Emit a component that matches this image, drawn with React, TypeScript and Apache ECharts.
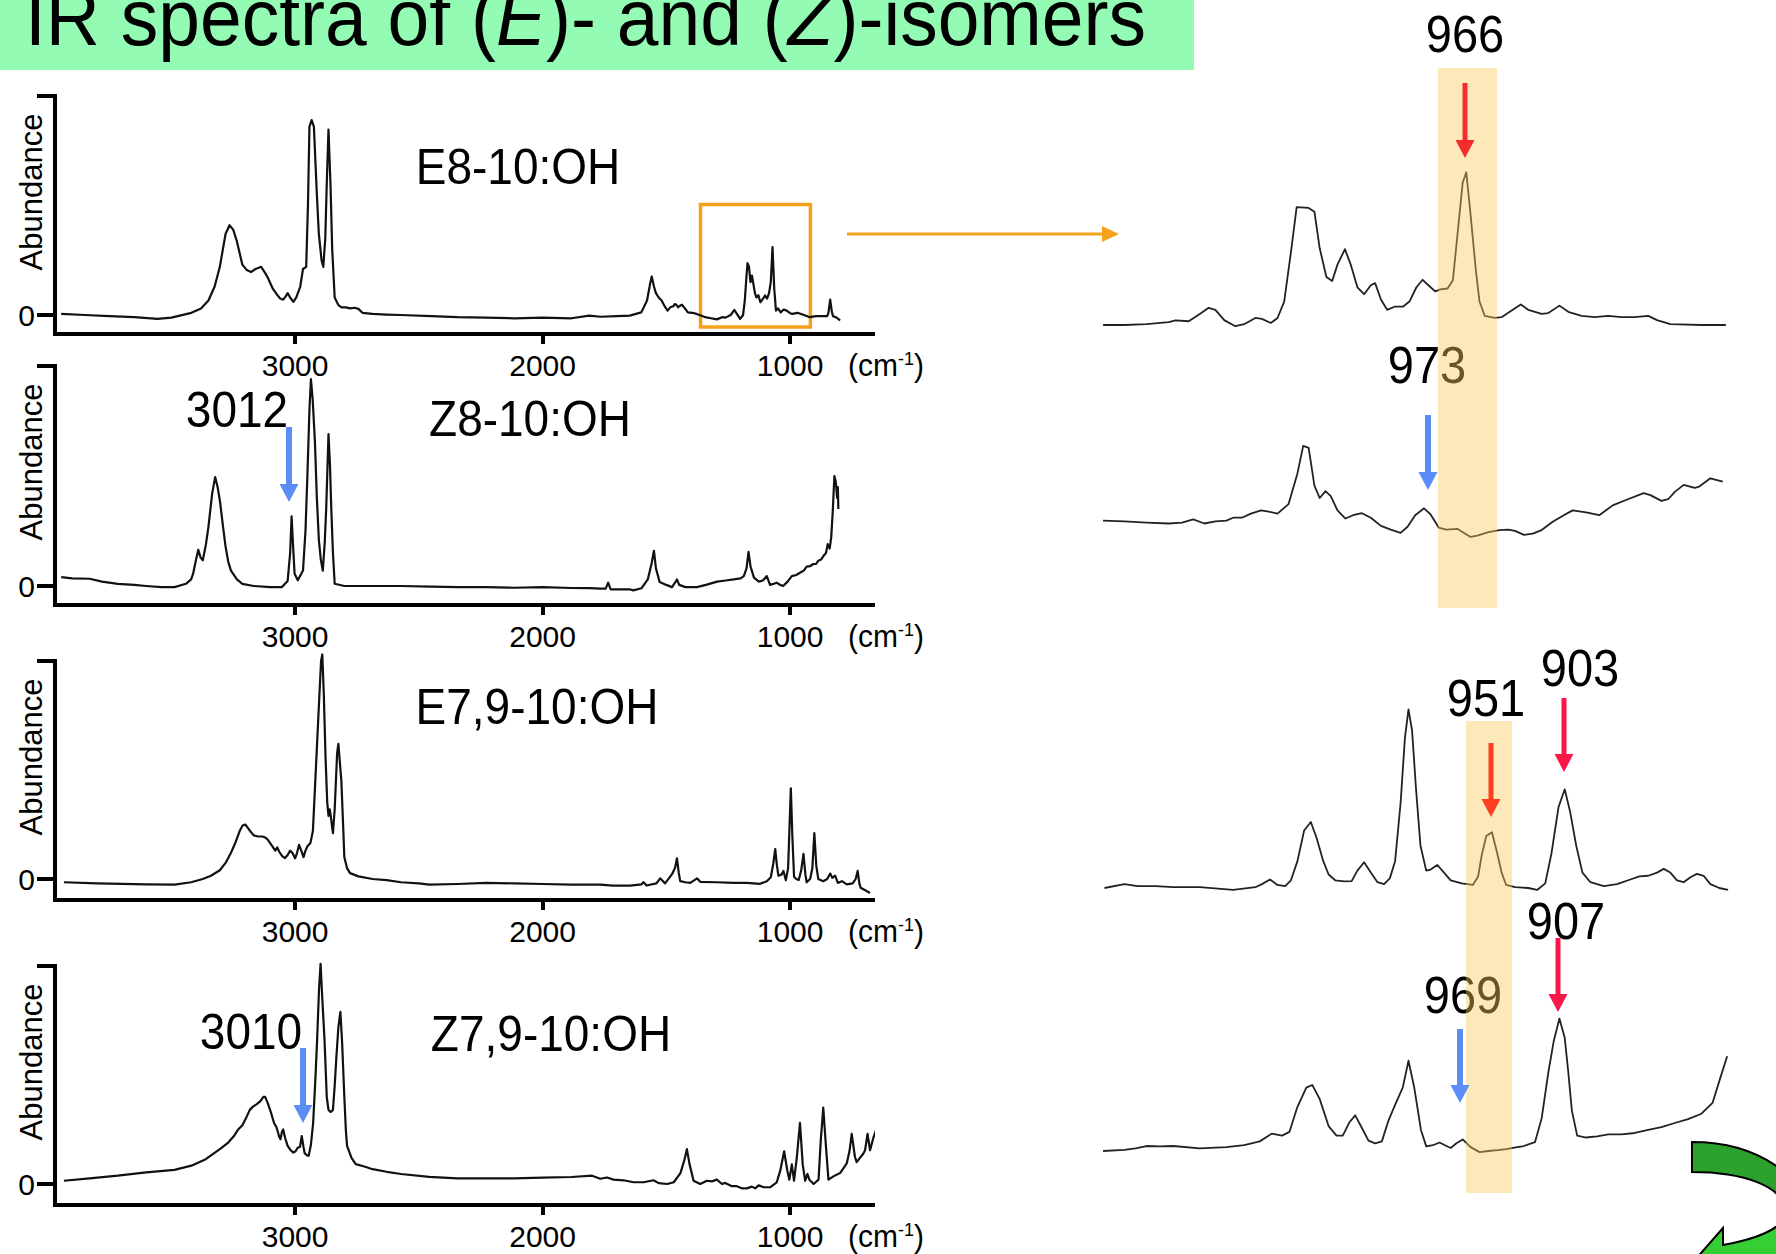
import React, { useEffect, useRef } from 'react';
import * as echarts from 'echarts';

const FONT = '"Liberation Sans", Arial, Helvetica, sans-serif';

// ---------- data ----------
const xTickValues = [1000, 2000, 3000];
const panelNames = ['E8-10:OH', 'Z8-10:OH', 'E7,9-10:OH', 'Z7,9-10:OH'];

// [wavenumber cm-1, relative abundance]
const e8: [number, number][] = [[3945,0.005],[3850,0],[3750,-0.005],[3650,-0.01],[3556,-0.018],[3500,-0.012],[3419,0.01],[3380,0.03],[3350,0.066],[3325,0.13],[3304,0.22],[3281,0.37],[3265,0.41],[3250,0.39],[3236,0.34],[3213,0.23],[3195,0.205],[3178,0.196],[3160,0.21],[3137,0.22],[3120,0.19],[3110,0.17],[3090,0.12],[3075,0.096],[3060,0.075],[3048,0.07],[3038,0.085],[3030,0.1],[3020,0.08],[3007,0.06],[2995,0.08],[2979,0.13],[2968,0.21],[2955,0.22],[2948,0.5],[2942,0.86],[2933,0.89],[2924,0.86],[2912,0.55],[2904,0.37],[2893,0.25],[2886,0.22],[2878,0.35],[2872,0.6],[2865,0.847],[2857,0.6],[2850,0.3],[2840,0.08],[2825,0.045],[2812,0.035],[2795,0.035],[2778,0.03],[2760,0.033],[2744,0.028],[2728,0.01],[2687,0.005],[2630,0.002],[2572,0],[2450,-0.005],[2343,-0.01],[2230,-0.012],[2114,-0.015],[2000,-0.012],[1883,-0.015],[1812,-0.003],[1765,-0.008],[1700,-0.005],[1648,-0.003],[1601,0.012],[1578,0.066],[1566,0.14],[1559,0.176],[1550,0.13],[1542,0.1],[1531,0.08],[1519,0.066],[1507,0.04],[1495,0.02],[1484,0.035],[1472,0.04],[1465,0.05],[1460,0.047],[1452,0.035],[1448,0.04],[1437,0.047],[1425,0.03],[1413,0.012],[1395,0.01],[1378,0.005],[1355,-0.005],[1343,-0.01],[1320,-0.015],[1296,-0.02],[1275,-0.01],[1261,-0.012],[1240,0],[1225,0.023],[1215,0.005],[1202,-0.018],[1190,0],[1183,0.066],[1176,0.18],[1172,0.237],[1166,0.22],[1160,0.15],[1154,0.18],[1148,0.14],[1142,0.1],[1136,0.08],[1128,0.09],[1120,0.058],[1112,0.07],[1101,0.089],[1093,0.075],[1085,0.1],[1078,0.15],[1071,0.31],[1064,0.12],[1057,0.02],[1049,0.03],[1038,0.012],[1026,0.025],[1014,0.02],[1000,0.008],[991,0.005],[970,0.01],[944,0],[920,-0.01],[895,-0.005],[870,-0.005],[850,-0.005],[845,0.01],[838,0.07],[832,0.02],[827,-0.005],[815,-0.01],[803,-0.02],[798,-0.025]];

const z8: [number, number][] = [[3945,0.04],[3900,0.035],[3830,0.033],[3780,0.02],[3716,0.01],[3650,0.005],[3602,0],[3540,-0.005],[3487,-0.005],[3441,0.01],[3420,0.03],[3412,0.056],[3400,0.12],[3391,0.165],[3382,0.13],[3373,0.117],[3360,0.19],[3350,0.27],[3335,0.42],[3323,0.495],[3313,0.45],[3304,0.39],[3290,0.26],[3281,0.18],[3270,0.11],[3259,0.07],[3235,0.03],[3213,0.01],[3167,0],[3100,-0.005],[3053,-0.005],[3030,0.023],[3020,0.15],[3014,0.317],[3008,0.18],[3002,0.056],[2989,0.026],[2968,0.07],[2958,0.25],[2950,0.51],[2942,0.8],[2936,0.94],[2929,0.85],[2920,0.66],[2912,0.4],[2904,0.21],[2896,0.12],[2888,0.07],[2880,0.2],[2874,0.36],[2865,0.69],[2859,0.55],[2854,0.36],[2847,0.15],[2840,0.01],[2801,0],[2700,0],[2572,0],[2450,-0.003],[2343,-0.005],[2230,-0.005],[2114,-0.008],[2000,-0.005],[1883,-0.009],[1812,-0.01],[1765,-0.012],[1745,-0.012],[1735,0.015],[1725,-0.015],[1680,-0.015],[1648,-0.015],[1634,-0.02],[1600,-0.01],[1575,0.03],[1560,0.1],[1550,0.16],[1542,0.08],[1527,0.018],[1500,0.005],[1477,-0.005],[1465,0.015],[1457,0.03],[1448,0.005],[1423,-0.005],[1376,-0.005],[1340,0.005],[1295,0.02],[1260,0.025],[1228,0.03],[1200,0.035],[1187,0.045],[1176,0.08],[1168,0.155],[1160,0.09],[1146,0.038],[1126,0.02],[1110,0.025],[1094,0.045],[1081,0.005],[1066,0.01],[1054,0.015],[1040,0.005],[1028,0],[1010,0.02],[993,0.045],[975,0.05],[960,0.06],[945,0.07],[933,0.088],[920,0.09],[906,0.1],[895,0.1],[886,0.115],[875,0.12],[866,0.135],[855,0.15],[848,0.19],[840,0.17],[834,0.22],[828,0.33],[821,0.5],[815,0.47],[810,0.4],[807,0.45],[805,0.35]];

const e79: [number, number][] = [[3934,-0.015],[3800,-0.02],[3700,-0.022],[3600,-0.025],[3487,-0.026],[3420,-0.015],[3373,0],[3340,0.015],[3304,0.04],[3280,0.075],[3259,0.12],[3240,0.17],[3224,0.22],[3212,0.245],[3201,0.25],[3185,0.225],[3167,0.2],[3150,0.195],[3133,0.195],[3120,0.19],[3110,0.18],[3095,0.155],[3080,0.13],[3072,0.145],[3064,0.125],[3052,0.105],[3041,0.096],[3030,0.11],[3020,0.13],[3011,0.12],[3000,0.095],[2992,0.12],[2984,0.157],[2975,0.13],[2966,0.1],[2958,0.13],[2950,0.15],[2938,0.165],[2928,0.22],[2920,0.41],[2904,0.79],[2895,1.0],[2890,1.03],[2884,0.85],[2877,0.56],[2870,0.35],[2865,0.29],[2860,0.32],[2856,0.29],[2847,0.21],[2840,0.32],[2830,0.58],[2825,0.62],[2818,0.52],[2813,0.45],[2806,0.25],[2801,0.1],[2790,0.05],[2778,0.027],[2744,0.012],[2687,0],[2630,-0.005],[2572,-0.015],[2500,-0.02],[2458,-0.026],[2343,-0.023],[2229,-0.018],[2114,-0.02],[2000,-0.023],[1883,-0.026],[1765,-0.026],[1718,-0.03],[1646,-0.03],[1600,-0.025],[1593,-0.014],[1580,-0.03],[1540,-0.02],[1525,0.003],[1505,-0.02],[1477,0.022],[1465,0.05],[1457,0.095],[1450,0.03],[1444,-0.01],[1423,-0.015],[1403,-0.018],[1376,0.003],[1363,-0.013],[1296,-0.015],[1228,-0.018],[1175,-0.018],[1121,-0.022],[1094,-0.01],[1078,0.008],[1068,0.07],[1060,0.137],[1053,0.06],[1047,0.015],[1035,0.02],[1027,0.037],[1017,-0.005],[1008,0.05],[1002,0.25],[997,0.416],[991,0.2],[984,0.01],[975,0],[965,-0.005],[955,0.04],[946,0.115],[938,0.02],[933,-0.015],[919,0],[910,0.05],[902,0.21],[894,0.06],[886,0],[866,-0.01],[850,0],[838,0.025],[829,0.005],[818,0.015],[807,-0.018],[791,-0.01],[771,-0.025],[747,-0.02],[735,0],[727,0.037],[720,-0.02],[715,-0.04],[691,-0.055],[677,-0.064]];

const z79: [number, number][] = [[3934,0.015],[3830,0.026],[3716,0.038],[3602,0.053],[3487,0.065],[3419,0.084],[3361,0.114],[3304,0.16],[3270,0.19],[3247,0.22],[3230,0.25],[3213,0.27],[3195,0.31],[3183,0.34],[3170,0.355],[3156,0.365],[3140,0.38],[3128,0.4],[3121,0.4],[3110,0.37],[3098,0.33],[3085,0.28],[3075,0.26],[3065,0.22],[3059,0.205],[3053,0.24],[3048,0.25],[3040,0.21],[3030,0.175],[3018,0.155],[3007,0.144],[2998,0.15],[2989,0.167],[2980,0.17],[2973,0.22],[2966,0.17],[2961,0.14],[2950,0.13],[2945,0.13],[2936,0.18],[2927,0.28],[2918,0.48],[2911,0.66],[2903,0.9],[2897,1.01],[2890,0.85],[2881,0.66],[2872,0.4],[2865,0.34],[2856,0.33],[2847,0.34],[2840,0.45],[2833,0.585],[2825,0.72],[2817,0.79],[2810,0.65],[2801,0.4],[2795,0.25],[2790,0.175],[2772,0.12],[2755,0.091],[2720,0.08],[2687,0.068],[2630,0.056],[2572,0.046],[2458,0.033],[2343,0.026],[2229,0.026],[2114,0.026],[2000,0.029],[1883,0.032],[1800,0.038],[1767,0.024],[1740,0.03],[1713,0.02],[1673,0.017],[1632,0.008],[1592,0.008],[1552,0.017],[1531,0.004],[1497,0],[1470,0.008],[1443,0.05],[1427,0.11],[1417,0.16],[1406,0.09],[1390,0.015],[1363,0],[1336,0.015],[1316,0.012],[1296,0.02],[1275,0],[1262,0.005],[1235,-0.01],[1215,-0.01],[1195,-0.02],[1175,-0.02],[1154,-0.012],[1141,-0.02],[1127,-0.006],[1107,-0.015],[1081,-0.015],[1054,0.008],[1040,0.06],[1024,0.15],[1011,0.06],[1003,0.02],[993,0.09],[984,0.015],[973,0.12],[960,0.28],[949,0.09],[939,0.015],[930,0.046],[922,0.02],[905,0],[885,0.02],[876,0.2],[866,0.35],[855,0.17],[845,0.02],[825,0.035],[798,0.05],[771,0.095],[760,0.15],[751,0.23],[738,0.125],[731,0.1],[704,0.14],[697,0.155],[687,0.23],[677,0.155],[664,0.21],[644,0.275]];

// expanded views (wavenumber, height above own baseline, arbitrary units)
const e8Zoom: [number, number][] = [[1200.6,0],[1186.9,0],[1172.7,0.007],[1158.4,0.025],[1154.1,0.04],[1145.6,0.033],[1138.5,0.098],[1132.8,0.152],[1128.5,0.134],[1122.8,0.043],[1115.7,-0.011],[1110,0.007],[1102.8,0.062],[1098.6,0.054],[1092.9,0.018],[1088.6,0.062],[1084.3,0.207],[1080,0.641],[1076.3,1.04],[1068.6,1.033],[1064.9,1.0],[1061.5,0.677],[1057.2,0.424],[1053.5,0.388],[1050.1,0.533],[1045.3,0.67],[1041.6,0.533],[1037.3,0.333],[1033,0.272],[1028.7,0.351],[1025.9,0.37],[1022.2,0.225],[1018.2,0.134],[1013.1,0.163],[1007.9,0.163],[1003.9,0.207],[999.4,0.333],[995.4,0.399],[991.7,0.351],[987.4,0.297],[984,0.315],[979.4,0.322],[976,0.395],[972.6,0.859],[969.7,1.257],[967.4,1.348],[964.6,0.967],[961.2,0.478],[958.9,0.207],[955.5,0.08],[949,0.062],[944.7,0.069],[939.5,0.116],[932.4,0.181],[927.6,0.134],[919,0.098],[914.7,0.105],[907.6,0.171],[901.9,0.116],[893.4,0.08],[884.8,0.069],[876.3,0.08],[867.7,0.069],[859.2,0.069],[850.6,0.08],[844.9,0.043],[836.4,0.007],[816.4,0],[800.7,0]];

const z8Zoom: [number, number][] = [[1200.6,0.004],[1186.9,-0.004],[1172.7,-0.014],[1158.4,-0.022],[1149.9,-0.014],[1142.7,0.014],[1135.6,-0.022],[1128.5,-0.004],[1121.4,0.004],[1117.1,0.029],[1111.4,0.029],[1105.7,0.065],[1099.1,0.094],[1094.3,0.083],[1088.6,0.065],[1081.5,0.149],[1075.8,0.42],[1072.1,0.663],[1068.6,0.645],[1064.9,0.312],[1061.5,0.203],[1057.8,0.264],[1054.4,0.22],[1050.1,0.094],[1045,0.022],[1040.1,0.051],[1034.4,0.069],[1028.7,0.029],[1022.2,-0.043],[1015.9,-0.076],[1009.6,-0.105],[1005.1,-0.051],[1000.2,0.051],[994.5,0.112],[990.3,0.058],[985.1,-0.058],[980.3,-0.076],[973.1,-0.069],[968.9,-0.105],[964.6,-0.141],[960.3,-0.13],[953.2,-0.098],[946.1,-0.08],[940.4,-0.076],[936.1,-0.087],[930.4,-0.123],[924.7,-0.112],[919,-0.08],[911.9,-0.007],[904.8,0.051],[899.1,0.094],[890.5,0.076],[882,0.051],[873.4,0.138],[864.9,0.185],[853.5,0.246],[849.2,0.228],[842.1,0.178],[837.8,0.192],[833.5,0.257],[827.8,0.319],[820.7,0.293],[817.8,0.304],[810.7,0.377],[802.7,0.348]];

const e79Zoom: [number, number][] = [[1199.7,0],[1186.9,0.034],[1178.4,0.017],[1167,0.017],[1155.6,0.007],[1138.5,0.007],[1117.1,-0.017],[1102.8,0.007],[1098.6,0.034],[1093.4,0.075],[1088.6,0.027],[1083.7,0.017],[1080,0.068],[1075.8,0.237],[1071.5,0.508],[1067.2,0.583],[1063.5,0.441],[1059.2,0.237],[1055.8,0.119],[1051.5,0.068],[1045.8,0.058],[1041,0.061],[1037.3,0.153],[1033,0.227],[1028.7,0.136],[1024.4,0.051],[1020.2,0.034],[1016.5,0.085],[1013.1,0.237],[1009.6,0.746],[1006.8,1.322],[1004.5,1.576],[1002.2,1.39],[999.7,0.88],[996.8,0.373],[993.1,0.153],[990.3,0.163],[986,0.203],[981.7,0.136],[977.4,0.068],[970.3,0.041],[963.2,0.027],[959.8,0.102],[957.5,0.288],[954.6,0.458],[950.9,0.492],[947.5,0.305],[944.7,0.136],[941.8,0.027],[936.1,0.007],[927.6,0],[921.9,-0.017],[916.7,0.041],[912.7,0.305],[908.2,0.712],[904.2,0.871],[900.8,0.678],[896.8,0.373],[892.8,0.136],[887.7,0.051],[879.1,0.017],[870.6,0.034],[862,0.075],[856.3,0.102],[850.6,0.108],[844.9,0.136],[840.6,0.169],[836.4,0.136],[832.1,0.068],[827.8,0.051],[823.5,0.095],[819.3,0.125],[815,0.108],[810.7,0.034],[805,0],[799.3,-0.017]];

const z79Zoom: [number, number][] = [[1200.6,0],[1186.9,0.01],[1179.8,0.024],[1172.7,0.044],[1164.1,0.041],[1155.6,0.044],[1138.5,0.024],[1121.4,0.034],[1110,0.051],[1100,0.085],[1092.3,0.153],[1085.7,0.136],[1080.9,0.169],[1075.8,0.39],[1070.1,0.559],[1066.3,0.583],[1061.5,0.458],[1055.8,0.22],[1050.7,0.136],[1046.7,0.136],[1042.4,0.254],[1038.7,0.315],[1034.4,0.203],[1030.2,0.092],[1025.9,0.068],[1021.6,0.085],[1017.3,0.271],[1013.1,0.407],[1008.2,0.559],[1004.5,0.797],[1000.8,0.559],[996.5,0.186],[993.1,0.041],[988.8,0.051],[984.6,0.075],[981.1,0.051],[977.4,0.027],[973.7,0.068],[969.7,0.102],[964.6,0.034],[958.9,-0.01],[953.2,0],[947.5,0.007],[941.8,0.017],[934.7,0.034],[930.4,0.044],[923.3,0.078],[919,0.288],[914.7,0.695],[911.3,0.966],[907.6,1.169],[904.2,1.0],[901.9,0.695],[899.6,0.356],[896.2,0.136],[890.5,0.119],[883.4,0.129],[876.3,0.146],[867.7,0.146],[859.2,0.159],[850.6,0.186],[842.1,0.21],[833.5,0.247],[825,0.281],[816.4,0.329],[809.3,0.424],[805.1,0.61],[799.9,0.837]];

// highlighted wavenumber bands and the zoom box
const bandTop: [number, number] = [985.6, 947.7];
const bandBottom: [number, number] = [967.6, 938];
const zoomBox = { x0: 1362, x1: 918, y0: 0.505, y1: -0.055 };

// ---------- layout ----------
const LEFT_X = 55;
const LEFT_W = 818;
const panels = [
  { top: 96, zero: 315, axis: 334 },
  { top: 366, zero: 586, axis: 605 },
  { top: 661, zero: 879, axis: 900 },
  { top: 966, zero: 1184, axis: 1205 },
];
const R_X = 1104;
const R_W = 623;
const UNIT = 113.3;
const rightGrids = [
  { top: 68, height: 540, bases: [325, 521] },
  { top: 721, height: 472, bases: [888, 1151] },
];

const GREEN_ARROW_PATH =
  'M1692 1142 C1760 1142 1815 1180 1815 1235 C1815 1265 1790 1285 1760 1290 L1770 1320 L1680 1277 L1723 1228 L1723 1245 C1750 1240 1785 1230 1785 1212 C1785 1185 1740 1172 1692 1172 Z';

let shapeRegistered = false;
function registerShapes() {
  if (shapeRegistered) return;
  echarts.graphic.registerShape('greenArrow', echarts.graphic.extendPath(GREEN_ARROW_PATH, {}) as any);
  shapeRegistered = true;
}

function txt(text: string, x: number, y: number, size: number, opts: any = {}) {
  return {
    type: 'text',
    x,
    y,
    scaleY: opts.scaleY ?? 1.1,
    rotation: opts.rotation ?? 0,
    z: opts.z ?? 1,
    silent: true,
    style: {
      text,
      fontSize: size,
      fontFamily: FONT,
      fill: '#000',
      textAlign: opts.align ?? 'center',
      textVerticalAlign: 'middle',
      align: opts.align ?? 'center',
      verticalAlign: 'middle',
      rich: opts.rich,
    },
  };
}

function downArrow(x: number, y1: number, y2: number, color: string, shaft = 5) {
  return [
    { type: 'rect', z: 10, silent: true, shape: { x: x - shaft / 2, y: y1, width: shaft, height: y2 - y1 - 15 }, style: { fill: color } },
    { type: 'polygon', z: 10, silent: true, shape: { points: [[x - 9.5, y2 - 18], [x + 9.5, y2 - 18], [x, y2]] }, style: { fill: color } },
  ];
}

function buildOption() {
  const leftData = [e8, z8, e79, z79];
  const grid: any[] = [];
  const xAxis: any[] = [];
  const yAxis: any[] = [];
  const series: any[] = [];

  panels.forEach((p, i) => {
    const h = p.axis - p.top;
    grid.push({ left: LEFT_X, top: p.top, width: LEFT_W, height: h, outerBoundsMode: 'none', containLabel: false });
    xAxis.push({
      type: 'value', gridIndex: i, inverse: true, min: 665, max: 3970,
      axisLine: { show: true, onZero: false, lineStyle: { color: '#000', width: 4, cap: 'square' } },
      axisTick: { show: true, customValues: xTickValues, length: 10, lineStyle: { color: '#000', width: 4 } },
      axisLabel: {
        show: true, customValues: xTickValues, color: '#000', fontSize: 30, fontFamily: FONT, margin: 16,
        formatter: (v: number) => String(Math.round(v)),
      },
      splitLine: { show: false },
    });
    yAxis.push({
      type: 'value', gridIndex: i, min: 1 - h / (p.zero - p.top), max: 1,
      axisLine: { show: true, onZero: false, lineStyle: { color: '#000', width: 4, cap: 'square' } },
      axisTick: { show: true, customValues: [0, 1], length: 18, lineStyle: { color: '#000', width: 4 } },
      axisLabel: {
        show: true, customValues: [0], color: '#000', fontSize: 30, fontFamily: FONT, margin: 20,
        formatter: (v: number) => String(Math.round(v)),
      },
      splitLine: { show: false },
    });
    const s: any = {
      type: 'line', xAxisIndex: i, yAxisIndex: i, data: leftData[i], showSymbol: false, symbol: 'none',
      clip: false, silent: true, z: 3,
      lineStyle: { color: '#111', width: 2.2, join: 'round' },
    };
    if (i === 0) {
      s.markArea = {
        silent: true,
        itemStyle: { color: 'rgba(0,0,0,0)', borderColor: '#F5A11C', borderWidth: 3.5 },
        data: [[{ coord: [zoomBox.x0, zoomBox.y0] }, { coord: [zoomBox.x1, zoomBox.y1] }]],
      };
    }
    series.push(s);
  });

  rightGrids.forEach((g, k) => {
    const gi = 4 + k;
    grid.push({ left: R_X, top: g.top, width: R_W, height: g.height, outerBoundsMode: 'none' });
    xAxis.push({ type: 'value', gridIndex: gi, inverse: true, min: 800, max: 1200, show: false });
    g.bases.forEach((b) => {
      yAxis.push({
        type: 'value', gridIndex: gi, show: false,
        min: -(g.top + g.height - b) / UNIT, max: (b - g.top) / UNIT,
      });
    });
  });

  const rightData = [e8Zoom, z8Zoom, e79Zoom, z79Zoom];
  rightData.forEach((d, j) => {
    series.push({
      type: 'line', xAxisIndex: 4 + Math.floor(j / 2), yAxisIndex: 4 + j, data: d,
      showSymbol: false, symbol: 'none', clip: false, silent: true, z: 3,
      lineStyle: { color: '#222', width: 1.8, join: 'round' },
    });
  });

  const bandItem = (params: any, api: any) => {
    const xa = api.coord([api.value(0), 0])[0];
    const xb = api.coord([api.value(1), 0])[0];
    const cs = params.coordSys;
    return {
      type: 'rect',
      shape: { x: Math.min(xa, xb), y: cs.y, width: Math.abs(xb - xa), height: cs.height },
      style: { fill: 'rgba(250,200,90,0.42)' },
    };
  };
  series.push({ type: 'custom', xAxisIndex: 4, yAxisIndex: 4, data: [bandTop], renderItem: bandItem, z: 5, silent: true });
  series.push({ type: 'custom', xAxisIndex: 5, yAxisIndex: 6, data: [bandBottom], renderItem: bandItem, z: 5, silent: true });

  const graphic: any[] = [];
  graphic.push({ type: 'rect', z: 0, silent: true, shape: { x: 0, y: 0, width: 1194, height: 70 }, style: { fill: '#93FBB4' } });
  graphic.push(
    txt('IR spectra of ({i|E})- and ({i|Z})-isomers', 25, 17, 75, {
      align: 'left', scaleY: 1.06,
      rich: { i: { fontStyle: 'italic', fontSize: 75, fontFamily: FONT, fill: '#000' } },
    }),
  );

  const nameCenters = [[518, 166], [530, 418], [537, 706], [551, 1033]];
  panels.forEach((p, i) => {
    graphic.push(txt('Abundance', 31, p.top + 96, 31, { rotation: Math.PI / 2, scaleY: 1 }));
    graphic.push(
      txt('(cm{s|-1})', 848, p.axis + 31, 30, {
        align: 'left', scaleY: 1.05,
        rich: { s: { fontSize: 18, fontFamily: FONT, fill: '#000', verticalAlign: 'top', lineHeight: 30 } },
      }),
    );
    graphic.push(txt(panelNames[i], nameCenters[i][0], nameCenters[i][1], 46));
  });

  // left annotations
  graphic.push(txt('3012', 237, 409, 46));
  graphic.push(...downArrow(289, 427, 502, '#5B8DF6', 6));
  graphic.push(txt('3010', 251, 1031, 46));
  graphic.push(...downArrow(303, 1048, 1123, '#5B8DF6', 6));

  // orange pointer to the expanded view
  graphic.push({ type: 'line', z: 1, silent: true, shape: { x1: 847, y1: 234, x2: 1105, y2: 234 }, style: { stroke: '#F5A11C', lineWidth: 3 } });
  graphic.push({ type: 'polygon', z: 1, silent: true, shape: { points: [[1102, 226], [1119, 234], [1102, 242]] }, style: { fill: '#F5A11C' } });

  // right annotations
  graphic.push(txt('966', 1465, 34, 47));
  graphic.push(...downArrow(1465, 83, 158, '#F52C2C'));
  graphic.push(txt('973', 1427, 365, 47));
  graphic.push(...downArrow(1428, 415, 490, '#5B8DF6', 6));
  graphic.push(txt('951', 1486, 698, 47));
  graphic.push(...downArrow(1491, 743, 817, '#FF3D1F'));
  graphic.push(txt('903', 1580, 668, 47));
  graphic.push(...downArrow(1564, 698, 772, '#FA1747'));
  graphic.push(txt('907', 1566, 921, 47));
  graphic.push(...downArrow(1558, 938, 1012, '#FA1747'));
  graphic.push(txt('969', 1463, 995, 47));
  graphic.push(...downArrow(1460, 1029, 1103, '#5B8DF6', 6));

  // green curved arrow (partly outside the slide)
  graphic.push({
    type: 'greenArrow', x: 0, y: 0, z: 2, silent: true,
    style: {
      fill: new echarts.graphic.LinearGradient(0, 0, 0, 1, [
        { offset: 0, color: '#2DA12D' },
        { offset: 0.32, color: '#2DA12D' },
        { offset: 0.42, color: '#35CF35' },
        { offset: 1, color: '#35CF35' },
      ]),
      stroke: '#000', lineWidth: 2,
    },
  });

  return {
    animation: false,
    backgroundColor: '#ffffff',
    grid, xAxis, yAxis, series, graphic,
  };
}

export default function App() {
  const ref = useRef<HTMLDivElement>(null);
  useEffect(() => {
    document.body.style.margin = '0';
    registerShapes();
    const chart = echarts.init(ref.current!, undefined, { renderer: 'svg' });
    chart.setOption(buildOption() as any);
    return () => chart.dispose();
  }, []);
  return <div ref={ref} style={{ position: 'absolute', left: 0, top: 0, width: 1776, height: 1254 }} />;
}
